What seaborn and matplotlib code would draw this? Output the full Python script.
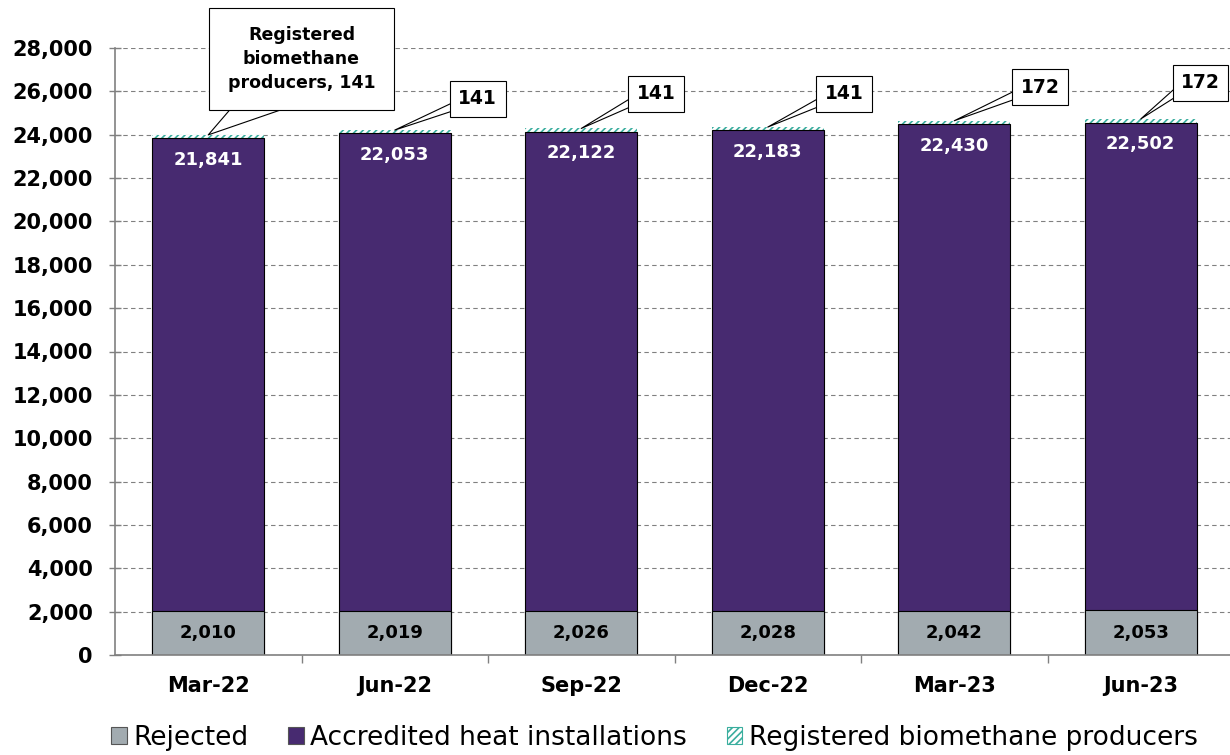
"""
Stacked bar chart of RHI applications: rejected, accredited heat
installations and registered biomethane producers by quarter.
"""

import matplotlib
matplotlib.use("Agg")
import matplotlib.pyplot as plt
import matplotlib.ticker as mticker
from matplotlib.patches import Patch
import numpy as np
import seaborn as sns

# Data
quarters = ["Mar-22", "Jun-22", "Sep-22", "Dec-22", "Mar-23", "Jun-23"]
rejected = [2010, 2019, 2026, 2028, 2042, 2053]
accredited = [21841, 22053, 22122, 22183, 22430, 22502]
biomethane = [141, 141, 141, 141, 172, 172]

series_names = ["Rejected", "Accredited heat installations",
                "Registered biomethane producers"]

GREY = "#A2ABB0"
PURPLE = "#472A70"
TEAL = "#3AAE9E"

sns.set_theme(style="white")
plt.rcParams["font.family"] = ["DejaVu Sans"]
plt.rcParams["text.color"] = "black"
plt.rcParams["hatch.linewidth"] = 1.2

fig = plt.figure(figsize=(12.3, 7.55), dpi=100)
ax = fig.add_axes([115 / 1230, 100 / 755, 1119 / 1230, 607 / 755])

rej = np.array(rejected)
acc_top = rej + np.array(accredited)
total = acc_top + np.array(biomethane)

# tallest layer first, each lower layer drawn over it
sns.barplot(x=quarters, y=total, color="white", saturation=1, width=0.6,
            edgecolor=TEAL, linewidth=0, ax=ax)
for p in ax.patches:
    p.set_hatch("/////")
sns.barplot(x=quarters, y=acc_top, color=PURPLE, saturation=1, width=0.6,
            edgecolor="black", linewidth=0.8, ax=ax)
sns.barplot(x=quarters, y=rej, color=GREY, saturation=1, width=0.6,
            edgecolor="black", linewidth=0.8, ax=ax)

ax.set_xlim(-0.5, 5.5)
ax.set_ylim(0, 28000)
ax.set_xlabel("")
ax.set_ylabel("")

ax.yaxis.set_major_locator(mticker.MultipleLocator(2000))
ax.yaxis.set_major_formatter(mticker.FuncFormatter(lambda v, _: f"{v:,.0f}"))
ax.grid(axis="y", color="#808080", linestyle=(0, (4, 3)), linewidth=0.8)
ax.set_axisbelow(True)

for s in ["top", "right"]:
    ax.spines[s].set_visible(False)
for s in ["left", "bottom"]:
    ax.spines[s].set_color("#808080")
    ax.spines[s].set_linewidth(1.2)

ax.tick_params(axis="y", direction="inout", length=8, width=1, color="#808080",
               left=True, pad=12, labelsize=15, labelcolor="black")
ax.set_xticks(range(len(quarters)))
ax.set_xticklabels(quarters)
ax.set_xticks(np.arange(0.5, len(quarters) - 0.5, 1), minor=True)
ax.tick_params(axis="x", which="major", length=0, pad=15, labelsize=15,
               labelcolor="black")
ax.tick_params(axis="x", which="minor", direction="out", length=6, width=1,
               color="#808080", bottom=True)
for lbl in ax.get_xticklabels() + ax.get_yticklabels():
    lbl.set_fontweight("bold")

# values inside segments
for i in range(len(quarters)):
    ax.text(i, rej[i] / 2, f"{rejected[i]:,}", ha="center", va="center",
            fontsize=13, fontweight="bold", color="black")
    ax.text(i, acc_top[i] - 1000, f"{accredited[i]:,}", ha="center",
            va="center", fontsize=13, fontweight="bold", color="white")

# callouts for the biomethane layer
callout_pos = [(0.50, 27490), (1.445, 25650), (2.40, 25880),
               (3.41, 25880), (4.46, 26200), (5.32, 26390)]
for i, (tx, ty) in enumerate(callout_pos):
    if i == 0:
        txt = f"Registered\nbiomethane\nproducers, {biomethane[i]}"
        pad, fs, rel, tw = 1.05, 12.5, (0.3, 0.0), 2.4
    else:
        txt = f"{biomethane[i]}"
        pad, fs, rel, tw = 0.45, 13.5, (0.0, 0.2), 0.45
    ax.annotate(txt, xy=(i, total[i]), xytext=(tx, ty), textcoords="data",
                ha="center", va="center", fontsize=fs, fontweight="bold",
                linespacing=1.4, color="black",
                bbox=dict(boxstyle=f"square,pad={pad}", fc="white",
                          ec="black", lw=0.8),
                arrowprops=dict(arrowstyle=f"wedge,tail_width={tw},shrink_factor=0.5",
                                fc="white", ec="black", lw=0.8, relpos=rel,
                                patchA=None, shrinkA=0, shrinkB=0),
                annotation_clip=False, zorder=5)

handles = [
    Patch(facecolor=GREY, edgecolor="#555555", linewidth=0.8),
    Patch(facecolor=PURPLE, edgecolor="#555555", linewidth=0.8),
    Patch(facecolor="white", edgecolor=TEAL, hatch="/////", linewidth=0.8),
]
fig.legend(handles, series_names, loc="center", bbox_to_anchor=(0.532, 0.023),
           ncol=3, frameon=False, fontsize=19, handlelength=0.6,
           handleheight=0.6, handletextpad=0.25, columnspacing=1.5,
           labelcolor="black")

fig.savefig("out.png", dpi=100)
